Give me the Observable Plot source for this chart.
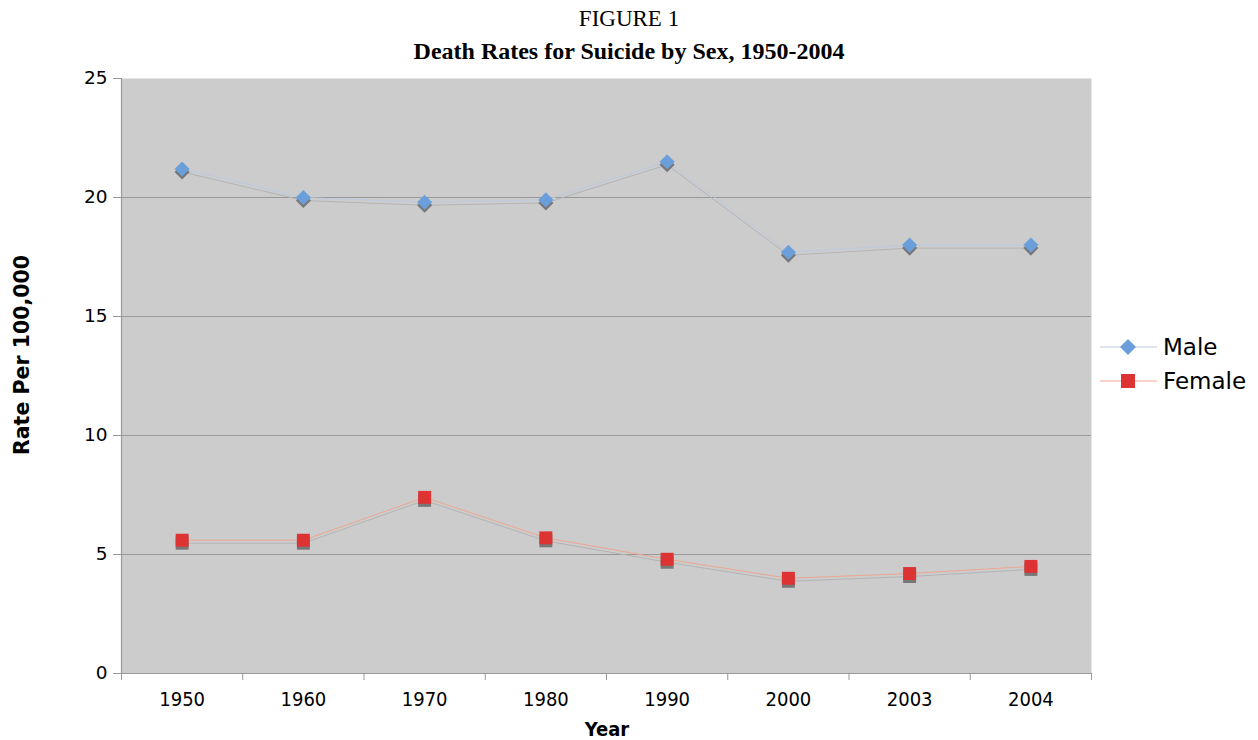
<!DOCTYPE html>
<html>
<head>
<meta charset="utf-8">
<script src="https://cdn.jsdelivr.net/npm/d3@7"></script>
<script src="https://cdn.jsdelivr.net/npm/@observablehq/plot@0.6"></script>
<style>
  html, body { margin: 0; padding: 0; background: #fff; }
  #wrap { position: relative; width: 1258px; height: 740px; overflow: hidden; }
  .t1 { position: absolute; left: 0; width: 1258px; text-align: center; top: 6px;
        font-family: "Liberation Serif", "Times New Roman", serif; font-size: 23px; color: #000; }
  .t2 { position: absolute; left: 0; width: 1258px; text-align: center; top: 38px;
        font-family: "Liberation Serif", "Times New Roman", serif; font-size: 24px; font-weight: bold; color: #000; }
  #chart { position: absolute; left: 0; top: 62px; }
  .ylab { position: absolute; left: 22px; top: 355px; transform: translate(-50%, -50%) rotate(-90deg);
          font-family: "DejaVu Sans", Verdana, sans-serif; font-weight: bold; font-size: 20.5px; white-space: nowrap; }
  .xlab { position: absolute; left: 607px; top: 729px; transform: translate(-50%, -50%); line-height: 1;
          font-family: "DejaVu Sans Condensed", "DejaVu Sans", sans-serif; font-weight: bold; font-size: 20px; }
  .legend { position: absolute; left: 1100px; top: 330px; font-family: "DejaVu Sans", Verdana, sans-serif; font-size: 23px; }
  .legend div { display: flex; align-items: center; height: 34px; }
  .legend svg { margin-right: 6px; }
</style>
</head>
<body>
<div id="wrap">
  <div class="t1">FIGURE 1</div>
  <div class="t2">Death Rates for Suicide by Sex, 1950-2004</div>
  <div id="chart"></div>
  <div class="ylab">Rate Per 100,000</div>
  <div class="xlab">Year</div>
  <div class="legend" id="legend"></div>
</div>
<script>
const years = ["1950", "1960", "1970", "1980", "1990", "2000", "2003", "2004"];
const male = [21.2, 20.0, 19.8, 19.9, 21.5, 17.7, 18.0, 18.0];
const female = [5.6, 5.6, 7.4, 5.7, 4.8, 4.0, 4.2, 4.5];
const seriesNames = ["Male", "Female"];
const yTicks = [0, 5, 10, 15, 20, 25];

const colors = { Male: "#6a9fdc", Female: "#dd3333" };
const lineColors = { Male: "#bccadd", Female: "#eea592" };

const rows = [];
years.forEach((y, i) => {
  rows.push({ i, year: y, series: "Male", value: male[i] });
  rows.push({ i, year: y, series: "Female", value: female[i] });
});
const maleRows = rows.filter(d => d.series === "Male");
const femaleRows = rows.filter(d => d.series === "Female");

const bounds = years.map((_, i) => i - 0.5).concat([years.length - 0.5]);
const idx = years.map((_, i) => i);

const axisFont = "DejaVu Sans, Verdana, sans-serif";

const plot = Plot.plot({
  width: 1258,
  height: 678,
  marginLeft: 121,
  marginRight: 167,
  marginTop: 16,
  marginBottom: 67,
  style: { fontFamily: axisFont, fontSize: "18px", color: "#000", background: "transparent" },
  x: { domain: [-0.5, years.length - 0.5], label: null },
  y: { domain: [0, 25], label: null },
  marks: [
    Plot.frame({ fill: "#cccccc", stroke: null }),
    Plot.ruleY(yTicks.filter(t => t > 0 && t < 25), { stroke: "#999999", strokeWidth: 1 }),
    Plot.ruleX([-0.5], { stroke: "#999999", strokeWidth: 1.2 }),
    Plot.ruleY([0], { stroke: "#999999", strokeWidth: 1.2 }),
    Plot.axisY({ ticks: yTicks, tickSize: 8, tickPadding: 6, stroke: "#999999", label: null,
                 fontFamily: axisFont, fontSize: 18.5 }),
    Plot.axisX({ ticks: bounds, tickSize: 7, tickFormat: () => "", stroke: "#999999", label: null }),
    Plot.axisX({ ticks: idx, tickSize: 0, tickPadding: 18, tickFormat: i => years[i], label: null,
                 fontFamily: "DejaVu Sans Condensed, DejaVu Sans, sans-serif", fontSize: 20 }),
    // shadow lines
    Plot.line(maleRows, { x: "i", y: "value", stroke: "#b4b4b4", strokeWidth: 1, dy: 3 }),
    Plot.line(femaleRows, { x: "i", y: "value", stroke: "#b4b4b4", strokeWidth: 1, dy: 3 }),
    // main lines
    Plot.line(maleRows, { x: "i", y: "value", stroke: lineColors.Male, strokeWidth: 1 }),
    Plot.line(femaleRows, { x: "i", y: "value", stroke: lineColors.Female, strokeWidth: 1 }),
    // shadow markers
    Plot.dot(maleRows, { x: "i", y: "value", symbol: () => "diamond2", r: 6.8, fill: "#777777", stroke: null, dy: 3 }),
    Plot.dot(femaleRows, { x: "i", y: "value", symbol: () => "square", r: 7.3, fill: "#777777", stroke: null, dy: 3 }),
    // markers
    Plot.dot(maleRows, { x: "i", y: "value", symbol: () => "diamond2", r: 6.8, fill: colors.Male, stroke: null }),
    Plot.dot(femaleRows, { x: "i", y: "value", symbol: () => "square", r: 7.3, fill: colors.Female, stroke: null })
  ]
});
document.getElementById("chart").appendChild(plot);

// legend
const leg = document.getElementById("legend");
seriesNames.forEach(name => {
  const row = document.createElement("div");
  const isMale = name === "Male";
  const marker = isMale
    ? `<polygon points="28,7 36,15 28,23 20,15" fill="${colors[name]}"/>`
    : `<rect x="21" y="8" width="14" height="14" fill="${colors[name]}"/>`;
  row.innerHTML = `<svg width="57" height="30"><line x1="0" x2="57" y1="15" y2="15" stroke="${lineColors[name]}" stroke-width="1"/>${marker}</svg><span>${name}</span>`;
  leg.appendChild(row);
});
</script>
</body>
</html>
